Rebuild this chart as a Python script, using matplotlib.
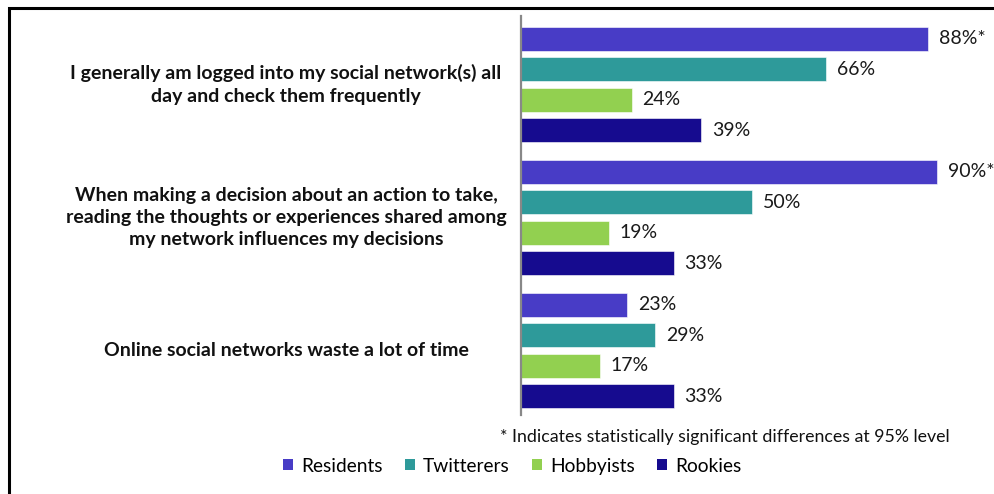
import numpy as np
import matplotlib
matplotlib.use('Agg')
from matplotlib import pyplot as plt
from matplotlib.patches import Rectangle, Patch

plt.rcParams['font.family'] = ['Lato', 'DejaVu Sans']

statements = [
    'I generally am logged into my social network(s) all\nday and check them frequently',
    'When making a decision about an action to take,\nreading the thoughts or experiences shared among\nmy network influences my decisions',
    'Online social networks waste a lot of time',
]
segments = ['Residents', 'Twitterers', 'Hobbyists', 'Rookies']
colors = ['#483cc6', '#2e9a9a', '#92d050', '#160b8f']

residents = [88, 90, 23]
twitterers = [66, 50, 29]
hobbyists = [24, 19, 17]
rookies = [39, 33, 33]
significant = [[True, False, False, False],
               [True, False, False, False],
               [False, False, False, False]]

footnote = '* Indicates statistically significant differences at 95% level'

values = [residents, twitterers, hobbyists, rookies]

fig = plt.figure(figsize=(9.94, 4.94), dpi=100)
W, H = 994, 494
ax = fig.add_axes([521 / W, 1 - 415 / H, 462.5 / W, 399 / H])

step = 0.2293
bar_h = 0.177
for j, seg in enumerate(segments):
    ys = np.arange(len(statements)) + (j - 1.5) * step + 0.015
    ax.barh(ys, values[j], height=bar_h, color=colors[j], edgecolor='#ffffff',
            linewidth=0.4, label=seg)
    for i, v in enumerate(values[j]):
        txt = f'{v}%' + ('*' if significant[i][j] else '')
        ax.text(v + 2.3, ys[i], txt, va='center', ha='left', fontsize=14,
                color='#1a1a1a')

ax.set_xlim(0, 100)
ax.set_ylim(len(statements) - 0.5, -0.5)
for s in ['top', 'right', 'bottom']:
    ax.spines[s].set_visible(False)
ax.spines['left'].set_color('#888888')
ax.spines['left'].set_linewidth(1.6)
ax.set_xticks([])
ax.set_yticks([])

# statement labels, centred in the left column
for i, label in enumerate(statements):
    y_fig = 1 - (16 + 133 * (i + 0.5) + 2) / H
    fig.text(286 / W, y_fig, label, ha='center', va='center',
             multialignment='center', fontsize=14, fontweight='bold',
             linespacing=1.38, color='#111111')

fig.text(950 / W, 1 - 437 / H, footnote, ha='right', va='center',
         fontsize=12.8, color='#111111')

handles = [Patch(facecolor=c, edgecolor='none') for c in colors]
fig.legend(handles, segments, loc='center', bbox_to_anchor=(512 / W, 1 - 466 / H),
           ncol=4, frameon=False, fontsize=13.8, handlelength=0.55, handleheight=0.55,
           columnspacing=1.15, handletextpad=0.4)

# outer frame
fig.patches.append(Rectangle((8.5 / W, -0.2), 2.0, 1 - 8.5 / H + 0.2,
                             transform=fig.transFigure, fill=False,
                             edgecolor='black', linewidth=2.2))

fig.savefig('out.png', dpi=100)
